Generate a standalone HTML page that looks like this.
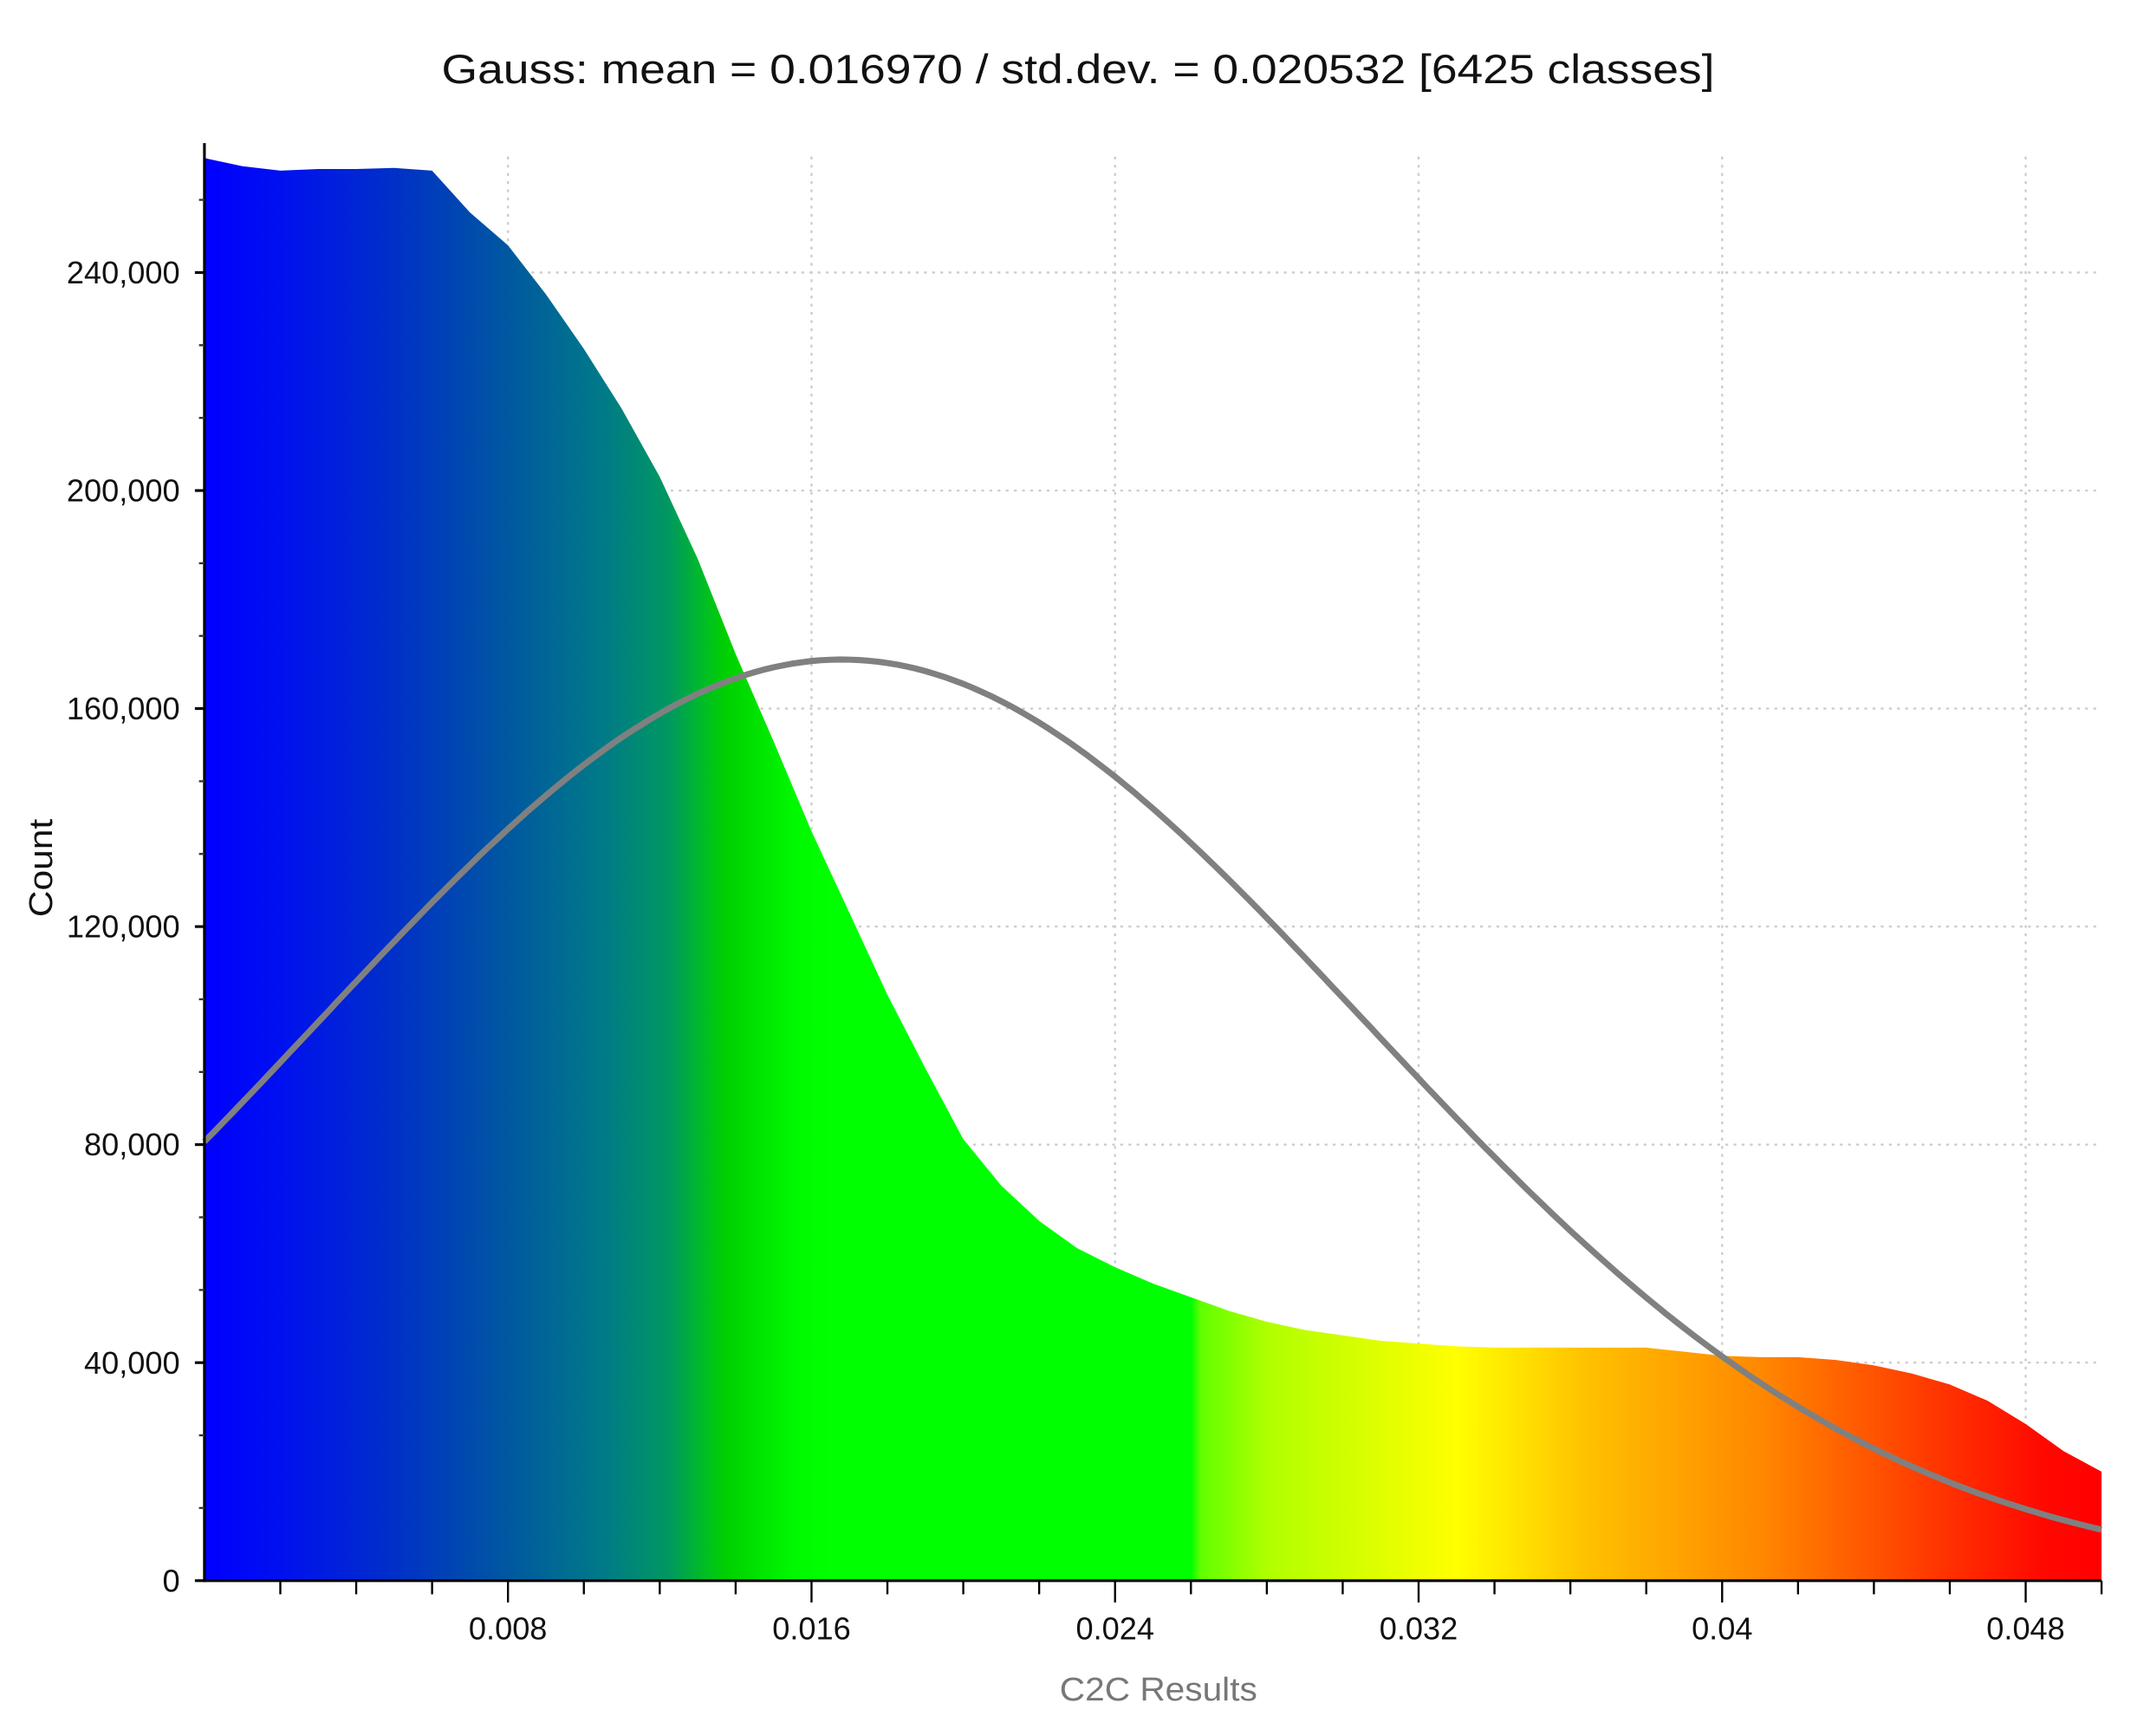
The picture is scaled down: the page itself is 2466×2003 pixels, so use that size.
<!DOCTYPE html>
<html><head><meta charset="utf-8">
<style>
html,body{margin:0;padding:0;background:#fff;}
svg{display:block;}
text{font-family:"Liberation Sans",sans-serif;}
</style></head>
<body>
<svg id="chart" width="2466" height="2003" viewBox="0 0 1568 1274" preserveAspectRatio="none" xmlns="http://www.w3.org/2000/svg">
<defs>
<linearGradient id="grad" gradientUnits="userSpaceOnUse" x1="150" y1="0" x2="1542" y2="0">
<stop offset="0" stop-color="#0000ff"/>
<stop offset="0.04" stop-color="#0010f0"/>
<stop offset="0.10" stop-color="#0030c8"/>
<stop offset="0.16" stop-color="#0058a0"/>
<stop offset="0.21" stop-color="#007a88"/>
<stop offset="0.245" stop-color="#009860"/>
<stop offset="0.265" stop-color="#00c020"/>
<stop offset="0.275" stop-color="#00d000"/>
<stop offset="0.31" stop-color="#00f800"/>
<stop offset="0.33" stop-color="#00ff00"/>
<stop offset="0.52" stop-color="#00ff00"/>
<stop offset="0.525" stop-color="#60ff00"/>
<stop offset="0.56" stop-color="#b0ff00"/>
<stop offset="0.66" stop-color="#ffff00"/>
<stop offset="0.73" stop-color="#ffc000"/>
<stop offset="0.82" stop-color="#ff8800"/>
<stop offset="0.92" stop-color="#ff3000"/>
<stop offset="0.97" stop-color="#ff0800"/>
<stop offset="1" stop-color="#ff0000"/>
</linearGradient>
</defs>
<text x="791" y="61" font-size="30" text-anchor="middle" textLength="934" lengthAdjust="spacingAndGlyphs" fill="#111">Gauss: mean = 0.016970 / std.dev. = 0.020532 [6425 classes]</text>
<g id="grid"></g>
<g id="bars"></g>
<g id="axes"></g>
<text transform="translate(38,637) rotate(-90)" font-size="24" text-anchor="middle" textLength="72" lengthAdjust="spacingAndGlyphs" fill="#111">Count</text>
<text x="850" y="1248" font-size="24" text-anchor="middle" textLength="145" lengthAdjust="spacingAndGlyphs" fill="#777">C2C Results</text>
</svg>
<script>
const binValues = [0.000,0.001,0.002,0.003,0.004,0.005,0.006,0.007,0.008,0.009,0.010,0.011,0.012,0.013,0.014,0.015,0.016,0.017,0.018,0.019,0.020,0.021,0.022,0.023,0.024,0.025,0.026,0.027,0.028,0.029,0.030,0.031,0.032,0.033,0.034,0.035,0.036,0.037,0.038,0.039,0.040,0.041,0.042,0.043,0.044,0.045,0.046,0.047,0.048,0.049,0.050];
const binCounts = [261000,259500,258700,259000,259000,259200,258700,251000,245000,236000,226000,215000,202500,187500,170000,154000,137500,122500,107500,94000,81000,72500,66000,61000,57500,54500,52000,49500,47500,46000,45000,44000,43500,43000,42750,42750,42750,42750,42750,42000,41250,41000,41000,40500,39500,38000,36000,33000,28750,23750,20000];
const xTicks = [0.008,0.016,0.024,0.032,0.04,0.048];
const xTickLabels = ["0.008","0.016","0.024","0.032","0.04","0.048"];
const yTicks = [0,40000,80000,120000,160000,200000,240000];
const yTickLabels = ["0","40,000","80,000","120,000","160,000","200,000","240,000"];
const gaussMean = 0.0168;
const gaussSigma = 0.0138;
const gaussPeak = 169000;

const NS="http://www.w3.org/2000/svg";
const X0=150, X1=1542, Y0=1160;
function xs(v){return X0+(v-0)/(0.05)*(X1-X0);}
function ys(c){return Y0-c/40000*160;}
function mk(tag,attrs,parent){const e=document.createElementNS(NS,tag);for(const k in attrs)e.setAttribute(k,attrs[k]);parent.appendChild(e);return e;}
const grid=document.getElementById('grid'), bars=document.getElementById('bars'), axes=document.getElementById('axes');
xTicks.forEach(v=>{const l=mk('line',{x1:xs(v),x2:xs(v),y1:115,y2:Y0,stroke:'#ccc','stroke-width':1.5,'stroke-dasharray':'2,4'},grid);

});
yTicks.slice(1).forEach(c=>{const l=mk('line',{x1:X0,x2:X1,y1:ys(c),y2:ys(c),stroke:'#ccc','stroke-width':1.5,'stroke-dasharray':'2,4'},grid);

});
let d='M'+xs(binValues[0])+','+Y0;
binValues.forEach((v,i)=>{d+=' L'+xs(v).toFixed(1)+','+ys(binCounts[i]).toFixed(1);});
d+=' L'+xs(binValues[binValues.length-1])+','+Y0+' Z';
const area=mk('path',{d:d,fill:'url(#grad)'},bars);


let g='';
for(let i=0;i<=200;i++){const v=0.05*i/200;const c=gaussPeak*Math.exp(-0.5*Math.pow((v-gaussMean)/gaussSigma,2));g+=(i?' L':'M')+xs(v).toFixed(1)+','+ys(c).toFixed(1);}
const curve=mk('path',{d:g,fill:'none',stroke:'#808080','stroke-width':4.5},bars);


const ya=mk('line',{x1:X0,x2:X0,y1:105,y2:Y0+1,stroke:'#000','stroke-width':2},axes);


const xa=mk('line',{x1:X0-1,x2:X1,y1:Y0,y2:Y0,stroke:'#000','stroke-width':2},axes);


for(let c=0;c<=260000;c+=40000/3){const l=mk('line',{x1:X0-4,x2:X0,y1:ys(c),y2:ys(c),stroke:'#333','stroke-width':1.5},axes);

}
yTicks.forEach((c,i)=>{const l=mk('line',{x1:X0-7,x2:X0,y1:ys(c),y2:ys(c),stroke:'#000','stroke-width':2},axes);


const t=mk('text',{x:X0-18,y:ys(c)+8,'font-size':23,'text-anchor':'end',fill:'#111'},axes);
t.textContent=yTickLabels[i];

});
for(let k=1;k<=25;k++){const v=k*0.002;const major=(k%4===0);const l=mk('line',{x1:xs(v),x2:xs(v),y1:Y0,y2:Y0+(major?16:10),stroke:'#000','stroke-width':1.5},axes);

}
xTicks.forEach((v,i)=>{const t=mk('text',{x:xs(v),y:Y0+43,'font-size':23,'text-anchor':'middle',fill:'#111'},axes);
t.textContent=xTickLabels[i];

});
</script>
</body></html>
